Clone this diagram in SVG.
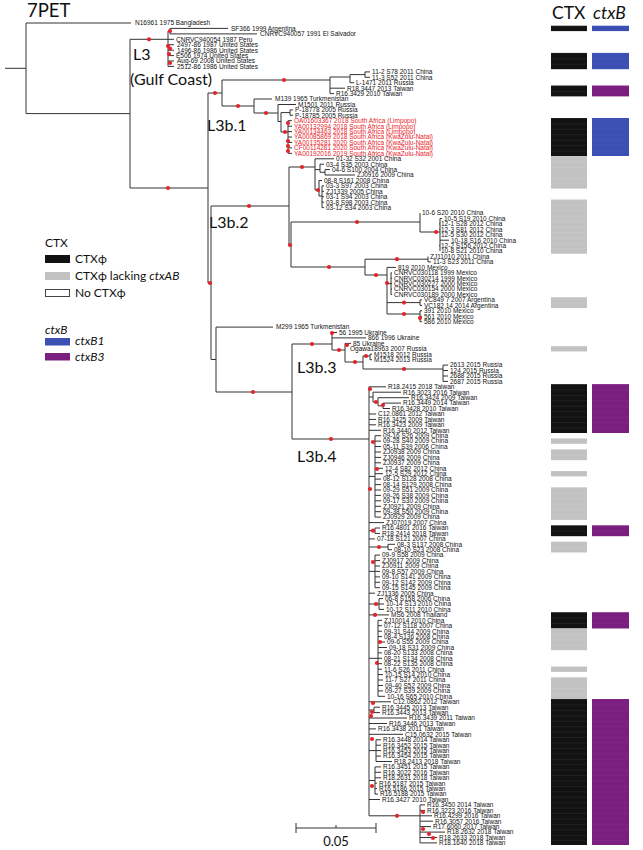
<svg xmlns="http://www.w3.org/2000/svg" width="643" height="850" viewBox="0 0 643 850">
<style>
.l{stroke:#333;stroke-width:1;fill:none}
.d{fill:#e3242b}
.t{font-family:"Liberation Sans",Arial,sans-serif;font-size:6.5px;fill:#111}
.r{fill:#e8242b}
.big{font-family:Lato,"Noto Sans",sans-serif;font-size:16px;fill:#111}
.lg{font-family:Lato,"Noto Sans",sans-serif;font-size:12px;fill:#111}
.it{font-style:italic}
.k{fill:url(#pk)}.g{fill:url(#pg)}.b{fill:url(#pb)}.p{fill:url(#pp)}
.lk{fill:#121212}.lgr{fill:#c2c2c2}.lb{fill:#3c4fb2}.lp{fill:#7a1f80}
</style>
<defs>
<pattern id="pk" patternUnits="userSpaceOnUse" x="0" y="20.3" width="20" height="5.43"><rect width="20" height="5.43" fill="#121212"/><rect width="20" height="0.5" fill="#2a2a2a"/></pattern>
<pattern id="pg" patternUnits="userSpaceOnUse" x="0" y="20.3" width="20" height="5.43"><rect width="20" height="5.43" fill="#c2c2c2"/><rect width="20" height="0.5" fill="#cbcbcb"/></pattern>
<pattern id="pb" patternUnits="userSpaceOnUse" x="0" y="20.3" width="20" height="5.43"><rect width="20" height="5.43" fill="#3c4fb2"/><rect width="20" height="0.5" fill="#4658b8"/></pattern>
<pattern id="pp" patternUnits="userSpaceOnUse" x="0" y="20.3" width="20" height="5.43"><rect width="20" height="5.43" fill="#7a1f80"/><rect width="20" height="0.5" fill="#832989"/></pattern>
</defs>
<rect width="643" height="850" fill="#fff"/>
<g id="titles">
<text class="big" x="27" y="17" style="font-size:18.5px">7PET</text>
<text class="big" x="133" y="60">L3</text>
<text class="big" x="130" y="85">(Gulf Coast)</text>
<text class="big" x="207" y="131">L3b.1</text>
<text class="big" x="209" y="228">L3b.2</text>
<text class="big" x="297" y="373">L3b.3</text>
<text class="big" x="297" y="462">L3b.4</text>
<text class="big" x="552" y="19" style="font-size:17.5px">CTX</text>
<text class="big it" x="593" y="19" style="font-size:17.5px">ctxB</text>
</g>
<g id="legend">
<text class="lg" x="45" y="247">CTX</text>
<rect class="lk" x="45" y="255" width="25" height="8"/><text class="lg" x="75" y="263">CTXϕ</text>
<rect class="lgr" x="45" y="272" width="25" height="8"/><text class="lg" x="75" y="280">CTXϕ lacking <tspan class="it">ctxAB</tspan></text>
<rect x="45.5" y="289.5" width="24" height="7" fill="#fff" stroke="#444" stroke-width="1"/><text class="lg" x="75" y="297">No CTXϕ</text>
<text class="lg it" x="45" y="334">ctxB</text>
<rect class="lb" x="45" y="338" width="25" height="7.5"/><text class="lg it" x="75" y="345">ctxB1</text>
<rect class="lp" x="45" y="353" width="25" height="7.5"/><text class="lg it" x="75" y="361">ctxB3</text>
</g>
<g id="connectors">
<path class="l" d="M5,68.3H26M26,23V113.6M26,23H131M26,113.6H130
M130,39.3V188M130,39.3H168M168,31V66.4M168,31H170M170,28.4V33.9M170,28.4H228M170,33.9H257
M168,39.3H174M168,44.7H174M168,50.2H174M168,55.6H174M168,61H174M168,66.4H174
M130,188H208M208,93V283M208,93H222M222,80V106
M222,80H330M330,77V93.6M330,93.6H334M330,88.2H345M330,77H350M350,74.6V82.7M350,82.7H354M350,74.6H365M365,71.9V77.3M365,71.9H370M365,77.3H370
M222,106H254M254,99V113M254,99H272M254,113H278M278,104.5V121.5M278,104.5H296M278,121.5H281M281,112.6V132M281,112.6H290M290,109.9V115.3M290,109.9H293M290,115.3H293
M281,132H288M288,120.7V153.3M288,120.7H292M288,126.2H292M288,131.6H292M288,137H292M288,142.5H292M288,147.9H292M288,153.3H292
M208,283H211M211,206V359.5M211,206H289M289,167V245M289,167H315M289,245H291M291,222V267M291,222H420M291,267H365
M315,158.8V190M315,158.8H334M315,169.6H320M320,164.2V172.3M320,164.2H324M320,172.3H325M325,169.6V175M325,169.6H330M325,175H355
M315,190H319M319,180.5V196M319,180.5H322M319,196H322M322,185.9V207.6M322,185.9H324M322,191.3H324M322,196.8H324M322,202.2H324M322,207.6H324
M420,213.1V232M420,232H440M440,218.5V251.1M440,218.5H442M440,223.9H439M440,229.3H439M440,240.2H449M440,245.6H439
M365,259.2V275M365,259.2H428M428,256.5V261.9M428,256.5H428M428,261.9H431
M365,275H387M387,267.4V314M387,267.4H396M387,283.6H391M391,272.8V294.5M391,272.8H392M391,278.2H392M391,283.6H392M391,289.1H392M391,294.5H392
M387,302.6H420M420,299.9V305.4M420,299.9H422M420,305.4H422M387,314H420M420,310.8V321.7M420,310.8H422M420,316.2H422M420,321.7H422
M211,359.5H216M216,327.1V392M216,327.1H273M216,392H292M292,344V439
M292,344H332M332,332.5V350M332,332.5H337M332,337.9H366M332,350H345M345,343.4V362M345,343.4H351M345,362H363M363,356V369
M363,356H370M370,354.2V359.7M370,354.2H372M370,359.7H372M363,369H443M443,365.1V381.4M443,365.1H448M443,370.5H448M443,376H448M443,381.4H448
M292,439H369M369,386.8V815.8M369,386.8H386
M369,397H373M373,392.2V402M373,392.2H401M373,402H378M378,397.7V405.8M378,397.7H409M378,405.8H383M383,403.1V408.5M383,403.1H401M383,408.5H390
M369,414H376M369,419.4H376M369,424.8H376M369,430.3H381
M369,476.4H375M375,435.7V517.1M375,435.7H381M375,441.1H381M375,446.5H381M375,452H381M375,457.4H381M375,462.8H381M375,468.3H383M375,473.7H383M375,479.1H381M375,484.6H381M375,490H381M375,495.4H381M375,500.8H381M375,506.3H381M375,511.7H381M375,517.1H381
M369,522.6H384M369,530.7H375M375,528V533.4M375,528H380M375,533.4H380M369,538.9H375
M369,547H388M388,544.3V549.7M388,544.3H395M388,549.7H392
M369,571.4H375M375,555.1V587.7M375,555.1H380M375,560.6H380M375,566H380M375,571.4H380M375,576.9H380M375,582.3H380M375,587.7H380
M369,593.2H375M369,604H379M379,598.6V609.4M379,598.6H383M379,604H384M379,609.4H384M369,614.9H389
M369,658.3H378M378,620.3V696.3M378,620.3H382M378,625.7H382M378,631.2H382M378,636.6H382M378,642H385M378,647.5H387M378,652.9H382M378,658.3H382M378,663.7H382M378,669.2H382M378,674.6H383M378,680H383M378,685.5H383M378,690.9H383M378,696.3H385
M369,701.8H391M369,710H374M374,707.2V712.6M374,707.2H380M374,712.6H380M369,718H407M369,723.5H387M369,728.9H376M369,734.3H403
M369,750.6H376M376,739.8V761.5M376,739.8H381M376,745.2H381M376,750.6H381M376,756.1H381M376,761.5H392
M369,780.5H375M375,766.9V794.1M375,766.9H381M375,772.3H381M375,777.8H381M375,783.2H377M375,788.6H377M375,794.1H378M369,799.5H380
M369,815.8H420M420,804.9V842.9M420,804.9H425M420,810.4H425M420,815.8H432M420,821.2H433M420,826.6H431M420,832.1H445M420,837.5H437M420,842.9H437"/>
<g class="d">
<circle cx="149" cy="39.3" r="2.1"/><circle cx="170" cy="31" r="2.1"/><circle cx="168" cy="46" r="2.1"/><circle cx="170" cy="48.5" r="2.1"/><circle cx="169" cy="54" r="2.1"/><circle cx="170" cy="63" r="2.1"/>
<circle cx="168" cy="188" r="2.1"/><circle cx="215" cy="93" r="2.1"/><circle cx="284" cy="80" r="2.1"/><circle cx="238" cy="106" r="2.1"/><circle cx="266" cy="113" r="2.1"/><circle cx="285" cy="132" r="2.1"/>
<circle cx="288" cy="123" r="2.1"/><circle cx="288" cy="141" r="2.1"/><circle cx="288" cy="146" r="2.1"/><circle cx="288" cy="151" r="2.1"/>
<circle cx="210" cy="283" r="2.1"/>
<circle cx="249" cy="206" r="2.1"/><circle cx="302" cy="167" r="2.1"/><circle cx="290" cy="245" r="2.1"/><circle cx="318" cy="190" r="2.1"/><circle cx="357" cy="222" r="2.1"/><circle cx="436" cy="232" r="2.1"/>
<circle cx="329" cy="267" r="2.1"/><circle cx="397" cy="259.2" r="2.1"/><circle cx="376" cy="275" r="2.1"/><circle cx="387" cy="283" r="2.1"/><circle cx="404" cy="302.6" r="2.1"/><circle cx="404" cy="314" r="2.1"/><circle cx="420" cy="318" r="2.1"/>
<circle cx="253" cy="392" r="2.1"/><circle cx="312" cy="344" r="2.1"/><circle cx="332" cy="333" r="2.1"/><circle cx="339" cy="350" r="2.1"/><circle cx="347" cy="345" r="2.1"/><circle cx="355" cy="362" r="2.1"/><circle cx="366" cy="356" r="2.1"/><circle cx="404" cy="369" r="2.1"/>
<circle cx="331" cy="439" r="2.1"/><circle cx="370" cy="389" r="2.1"/><circle cx="376" cy="402" r="2.1"/><circle cx="383" cy="405" r="2.1"/><circle cx="373" cy="442" r="2.1"/><circle cx="377" cy="469" r="2.1"/><circle cx="370" cy="489" r="2.1"/>
<circle cx="373" cy="530.7" r="2.1"/><circle cx="379" cy="547" r="2.1"/><circle cx="373" cy="562" r="2.1"/><circle cx="376" cy="604" r="2.1"/><circle cx="375" cy="614.9" r="2.1"/><circle cx="380" cy="642" r="2.1"/><circle cx="377" cy="663" r="2.1"/>
<circle cx="373" cy="703" r="2.1"/><circle cx="372" cy="712" r="2.1"/><circle cx="371" cy="716" r="2.1"/><circle cx="372" cy="739" r="2.1"/><circle cx="372" cy="786" r="2.1"/><circle cx="397" cy="815.8" r="2.1"/><circle cx="423" cy="812" r="2.1"/><circle cx="423" cy="829" r="2.1"/><circle cx="429" cy="834" r="2.1"/><circle cx="433" cy="838" r="2.1"/>
</g>
</g>
<g id="clade-7PET-L3" class="t">
<text x="135" y="25.3">N16961 1975 Bangladesh</text>
<text x="231" y="30.7">SF366 1999 Argentina</text>
<text x="260" y="36.2">CNRVC940057 1991 El Salvador</text>
<text x="176" y="41.6">CNRVC940054 1987 Peru</text>
<text x="177" y="47">2497-86 1987 United States</text>
<text x="177" y="52.5">1496-86 1986 United States</text>
<text x="176" y="57.9">E506 1974 United States</text>
<text x="177" y="63.3">Aug-69 2008 United States</text>
<text x="177" y="68.7">2512-86 1986 United States</text>
</g>
<g id="clade-L3b1" class="t">
<text x="372" y="74.2">11-2 S78 2011 China</text>
<text x="372" y="79.6">11-3 S52 2011 China</text>
<text x="356" y="85">L-1471 2011 Russia</text>
<text x="347" y="90.5">R18.3447 2013 Taiwan</text>
<text x="336" y="95.9">R16.3429 2010 Taiwan</text>
<text x="275" y="101.3">M139 1965 Turkmenistan</text>
<text x="298" y="106.8">M1501 2011 Russia</text>
<text x="295" y="112.2">P-18778 2005 Russia</text>
<text x="295" y="117.6">P-18785 2005 Russia</text>
<text class="r" x="294" y="123">OA01603367 2018 South Africa (Limpopo)</text>
<text class="r" x="294" y="128.5">YA00132994 2018 South Africa (Limpopo)</text>
<text class="r" x="294" y="133.9">YA00134463 2018 South Africa (Limpopo)</text>
<text class="r" x="294" y="139.3">YA00085869 2018 South Africa (KwaZulu-Natal)</text>
<text class="r" x="294" y="144.8">YA00135281 2020 South Africa (KwaZulu-Natal)</text>
<text class="r" x="294" y="150.2">CF00114281 2020 South Africa (KwaZulu-Natal)</text>
<text class="r" x="294" y="155.6">YA00192016 2019 South Africa (KwaZulu-Natal)</text>
</g>
<g id="clade-L3b2" class="t">
<text x="336" y="161.1">01-32 S32 2001 China</text>
<text x="326" y="166.5">03-4 S35 2003 China</text>
<text x="332" y="171.9">04-6 S100 2004 China</text>
<text x="357" y="177.3">ZJ0916 2009 China</text>
<text x="324" y="182.8">08-8 S161 2008 China</text>
<text x="326" y="188.2">03-3 S97 2003 China</text>
<text x="326" y="193.6">ZJ1339 2005 China</text>
<text x="326" y="199.1">03-1 S94 2003 China</text>
<text x="326" y="204.5">03-8 S98 2003 China</text>
<text x="326" y="209.9">03-12 S34 2003 China</text>
<text x="422" y="215.4">10-6 S20 2010 China</text>
<text x="444" y="220.8">10-5 S19 2010 China</text>
<text x="441" y="226.2">12-1 S28 2012 China</text>
<text x="441" y="231.6">12-3 S81 2012 China</text>
<text x="441" y="237.1">12-5 S30 2012 China</text>
<text x="451" y="242.5">10-18 S16 2010 China</text>
<text x="441" y="247.9">12-2 S156 2012 China</text>
<text x="441" y="253.4">10-8 S21 2010 China</text>
<text x="430" y="258.8">ZJ11010 2011 China</text>
<text x="433" y="264.2">11-3 S23 2011 China</text>
<text x="398" y="269.7">819 2010 Mexico</text>
<text x="394" y="275.1">CNRVC030118 1999 Mexico</text>
<text x="394" y="280.5">CNRVC030214 1999 Mexico</text>
<text x="394" y="285.9">CNRVC030227 2000 Mexico</text>
<text x="394" y="291.4">CNRVC030154 2000 Mexico</text>
<text x="394" y="296.8">CNRVC030189 2000 Mexico</text>
<text x="424" y="302.2">VC849 7 2007 Argentina</text>
<text x="424" y="307.7">VC182 14 2014 Argentina</text>
<text x="424" y="313.1">391 2010 Mexico</text>
<text x="424" y="318.5">561 2010 Mexico</text>
<text x="424" y="324">586 2010 Mexico</text>
</g>
<g id="clade-L3b3" class="t">
<text x="276" y="329.4">M299 1965 Turkmenistan</text>
<text x="339" y="334.8">56 1995 Ukraine</text>
<text x="368" y="340.2">866 1996 Ukraine</text>
<text x="353" y="345.7">85 Ukraine</text>
<text x="350" y="351.1">Ogawa18963 2007 Russia</text>
<text x="374" y="356.5">M1518 2012 Russia</text>
<text x="374" y="362">M1524 2013 Russia</text>
<text x="450" y="367.4">2613 2015 Russia</text>
<text x="450" y="372.8">124 2015 Russia</text>
<text x="450" y="378.3">2688 2015 Russia</text>
<text x="450" y="383.7">2687 2015 Russia</text>
</g>
<g id="clade-L3b4" class="t">
<text x="388" y="389.1">R18.2415 2018 Taiwan</text>
<text x="403" y="394.5">R16.3023 2016 Taiwan</text>
<text x="411" y="400">R16.3424 2009 Taiwan</text>
<text x="403" y="405.4">R16.3449 2014 Taiwan</text>
<text x="392" y="410.8">R16.3428 2010 Taiwan</text>
<text x="378" y="416.3">C12.0861 2012 Taiwan</text>
<text x="378" y="421.7">R16.3425 2009 Taiwan</text>
<text x="378" y="427.1">R16.3423 2009 Taiwan</text>
<text x="383" y="432.6">R16.3440 2012 Taiwan</text>
<text x="383" y="438">09-16 S26 2009 China</text>
<text x="383" y="443.4">09-28 S40 2009 China</text>
<text x="383" y="448.8">05-11 S39 2006 China</text>
<text x="383" y="454.3">ZJ0938 2009 China</text>
<text x="383" y="459.7">ZJ0946 2009 China</text>
<text x="383" y="465.1">ZJ0937 2009 China</text>
<text x="385" y="470.6">12-4 S82 2012 China</text>
<text x="385" y="476">12-5 S29 2012 China</text>
<text x="383" y="481.4">08-12 S128 2008 China</text>
<text x="383" y="486.9">08-14 S129 2008 China</text>
<text x="383" y="492.3">09-29 S51 2009 China</text>
<text x="383" y="497.7">09-26 S38 2009 China</text>
<text x="383" y="503.1">09-17 S30 2009 China</text>
<text x="383" y="508.6">ZJ0921 2009 China</text>
<text x="383" y="514">09-38 S50 2009 China</text>
<text x="383" y="519.4">ZJ0929 2009 China</text>
<text x="386" y="524.9">ZJ07019 2007 China</text>
<text x="382" y="530.3">R16.4801 2016 Taiwan</text>
<text x="382" y="535.7">R18.2414 2018 Taiwan</text>
<text x="377" y="541.2">07-18 S121 2007 China</text>
<text x="397" y="546.6">08-3 S137 2008 China</text>
<text x="394" y="552">08-10 S23 2008 China</text>
<text x="382" y="557.4">09-9 S58 2009 China</text>
<text x="382" y="562.9">ZJ0917 2009 China</text>
<text x="382" y="568.3">ZJ0911 2009 China</text>
<text x="382" y="573.7">09-8 S57 2009 China</text>
<text x="382" y="579.2">09-10 S141 2009 China</text>
<text x="382" y="584.6">09-12 S142 2009 China</text>
<text x="382" y="590">09-15 S145 2009 China</text>
<text x="377" y="595.5">ZJ1336 2005 China</text>
<text x="385" y="600.9">06-8 S158 2006 China</text>
<text x="386" y="606.3">10-14 S13 2010 China</text>
<text x="386" y="611.7">10-12 S11 2010 China</text>
<text x="391" y="617.2">MS6 2008 Thailand</text>
<text x="384" y="622.6">ZJ10014 2010 China</text>
<text x="384" y="628">07-12 S118 2007 China</text>
<text x="384" y="633.5">09-31 S44 2009 China</text>
<text x="384" y="638.9">08-4 S136 2008 China</text>
<text x="387" y="644.3">09-6 S55 2009 China</text>
<text x="389" y="649.8">09-18 S31 2009 China</text>
<text x="384" y="655.2">08-20 S133 2008 China</text>
<text x="384" y="660.6">08-21 S134 2008 China</text>
<text x="384" y="666">08-22 S135 2008 China</text>
<text x="384" y="671.5">11-6 S26 2011 China</text>
<text x="385" y="676.9">10-15 S14 2010 China</text>
<text x="385" y="682.3">11-7 S27 2011 China</text>
<text x="385" y="687.8">09-40 S52 2009 China</text>
<text x="385" y="693.2">09-27 S39 2009 China</text>
<text x="387" y="698.6">10-16 S65 2010 China</text>
<text x="393" y="704.1">C12.0862 2012 Taiwan</text>
<text x="382" y="709.5">R16.3445 2013 Taiwan</text>
<text x="382" y="714.9">R16.3443 2013 Taiwan</text>
<text x="409" y="720.3">R16.3439 2011 Taiwan</text>
<text x="389" y="725.8">R16.3446 2013 Taiwan</text>
<text x="378" y="731.2">R16.3438 2011 Taiwan</text>
<text x="405" y="736.6">C15.0632 2015 Taiwan</text>
<text x="383" y="742.1">R16.3448 2014 Taiwan</text>
<text x="383" y="747.5">R16.3452 2015 Taiwan</text>
<text x="383" y="752.9">R16.3453 2015 Taiwan</text>
<text x="383" y="758.4">R16.3454 2015 Taiwan</text>
<text x="394" y="763.8">R18.2413 2018 Taiwan</text>
<text x="383" y="769.2">R16.3451 2015 Taiwan</text>
<text x="383" y="774.6">R16.3022 2016 Taiwan</text>
<text x="383" y="780.1">R18.2631 2018 Taiwan</text>
<text x="379" y="785.5">R16.5187 2015 Taiwan</text>
<text x="379" y="790.9">R16.5186 2015 Taiwan</text>
<text x="380" y="796.4">R16.5188 2015 Taiwan</text>
<text x="382" y="801.8">R16.3427 2010 Taiwan</text>
<text x="427" y="807.2">R16.3450 2014 Taiwan</text>
<text x="427" y="812.7">R16.3223 2016 Taiwan</text>
<text x="434" y="818.1">R16.4299 2016 Taiwan</text>
<text x="435" y="823.5">R16.3057 2016 Taiwan</text>
<text x="433" y="828.9">R17.6060 2017 Taiwan</text>
<text x="447" y="834.4">R18.2632 2018 Taiwan</text>
<text x="439" y="839.8">R18.2633 2018 Taiwan</text>
<text x="439" y="845.2">R18.1640 2018 Taiwan</text>
</g>
<g id="scalebar">
<path class="l" d="M296,828H376M296,823V833M376,823V833M336,825V828" stroke-width="1.3"/>
<text class="lg" x="336" y="846" text-anchor="middle" style="font-size:13px">0.05</text>
</g>
<g id="ctx-column">
<rect class="k" x="551" y="25.7" width="36" height="5.4"/>
<rect class="k" x="551" y="52.9" width="36" height="16.3"/>
<rect class="k" x="551" y="85.5" width="36" height="10.9"/>
<rect class="k" x="551" y="118" width="36" height="38"/>
<rect class="g" x="551" y="156" width="36" height="32.6"/>
<rect class="g" x="551" y="199.5" width="36" height="54.3"/>
<rect class="g" x="551" y="297.2" width="36" height="10.9"/>
<rect class="g" x="551" y="346.1" width="36" height="5.4"/>
<rect class="k" x="551" y="384.1" width="36" height="48.9"/>
<rect class="g" x="551" y="438.4" width="36" height="5.4"/>
<rect class="g" x="551" y="449.3" width="36" height="10.9"/>
<rect class="g" x="551" y="471" width="36" height="5.4"/>
<rect class="g" x="551" y="487.3" width="36" height="32.6"/>
<rect class="k" x="551" y="525.3" width="36" height="10.9"/>
<rect class="g" x="551" y="541.6" width="36" height="10.9"/>
<rect class="k" x="551" y="612.2" width="36" height="16.3"/>
<rect class="g" x="551" y="628.5" width="36" height="21.7"/>
<rect class="g" x="551" y="666.5" width="36" height="5.4"/>
<rect class="g" x="551" y="677.3" width="36" height="21.7"/>
<rect class="k" x="551" y="699" width="36" height="146"/>
</g>
<g id="ctxB-column">
<rect class="b" x="592" y="25.7" width="37" height="5.4"/>
<rect class="b" x="592" y="52.9" width="37" height="16.3"/>
<rect class="p" x="592" y="85.5" width="37" height="10.9"/>
<rect class="b" x="592" y="118" width="37" height="38"/>
<rect class="p" x="592" y="384.1" width="37" height="48.9"/>
<rect class="p" x="592" y="525.3" width="37" height="10.9"/>
<rect class="p" x="592" y="612.2" width="37" height="16.3"/>
<rect class="p" x="592" y="699" width="37" height="146"/>
</g>
</svg>
